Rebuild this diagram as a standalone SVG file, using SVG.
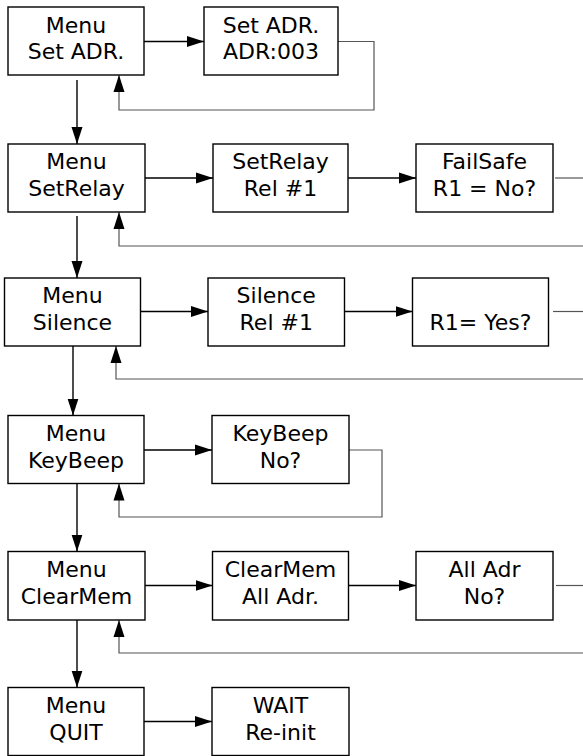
<svg xmlns="http://www.w3.org/2000/svg" width="583" height="756" viewBox="0 0 583 756">
<style>
.box{fill:#fff;stroke:#000;stroke-width:1.4}
text{font-family:"DejaVu Sans","Liberation Sans",sans-serif;font-size:22px;fill:#000;text-anchor:middle}
.a{fill:none;stroke:#000;stroke-width:1.4;marker-end:url(#ah)}
.g{fill:none;stroke:#555;stroke-width:1.2}
.ga{fill:none;stroke:#555;stroke-width:1.2;marker-end:url(#ah)}
</style>
<defs>
<marker id="ah" markerUnits="userSpaceOnUse" markerWidth="17" markerHeight="12" refX="17" refY="6" orient="auto">
<path d="M0,0.5 L17,6 L0,11.5 z" fill="#000"/>
</marker>
</defs>
<rect width="583" height="756" fill="#fff"/>
<g id="connectors">
<path class="a" d="M144,41.5 H204"/>
<path class="ga" d="M338,41.5 H374 V110 H119 V75"/>
<path class="a" d="M77,80 V144"/>
<path class="a" d="M145,178 H213"/>
<path class="a" d="M348,178 H416"/>
<path class="g" d="M555,178 H583"/>
<path class="ga" d="M583,246 H119 V212"/>
<path class="a" d="M77,216 V278"/>
<path class="a" d="M140.5,311.5 H208"/>
<path class="a" d="M344.5,311.5 H412.5"/>
<path class="g" d="M553,311.5 H583"/>
<path class="ga" d="M583,379 H116 V346"/>
<path class="a" d="M73,346 V415.5"/>
<path class="a" d="M144,450 H212"/>
<path class="ga" d="M349,450 H382 V517 H119 V483.5"/>
<path class="a" d="M77,483.5 V551.5"/>
<path class="a" d="M145,585.5 H212.5"/>
<path class="a" d="M348.5,585.5 H416"/>
<path class="g" d="M556,585.5 H583"/>
<path class="ga" d="M583,653 H119 V620"/>
<path class="a" d="M77,620 V687.5"/>
<path class="a" d="M144,721.5 H212"/>
</g>
<g id="menu-setadr"><rect class="box" x="8" y="7" width="136" height="68"/><text x="76" y="32.5">Menu</text><text x="76" y="58.5">Set ADR.</text></g>
<g id="setadr-adr"><rect class="box" x="204" y="7" width="134" height="68"/><text x="271" y="32.5">Set ADR.</text><text x="271" y="58.5">ADR:003</text></g>
<g id="menu-setrelay"><rect class="box" x="8" y="144" width="137" height="68"/><text x="76.5" y="169">Menu</text><text x="76.5" y="196">SetRelay</text></g>
<g id="setrelay-rel1"><rect class="box" x="213" y="144" width="135" height="68"/><text x="280.5" y="169">SetRelay</text><text x="280.5" y="196">Rel #1</text></g>
<g id="failsafe"><rect class="box" x="416" y="144" width="137" height="68"/><text x="484.5" y="169">FailSafe</text><text x="484.5" y="196">R1 = No?</text></g>
<g id="menu-silence"><rect class="box" x="4.5" y="278" width="136" height="68"/><text x="72.5" y="303">Menu</text><text x="72.5" y="330">Silence</text></g>
<g id="silence-rel1"><rect class="box" x="208" y="278" width="136.5" height="68"/><text x="276.25" y="303">Silence</text><text x="276.25" y="330">Rel #1</text></g>
<g id="r1-yes"><rect class="box" x="412.5" y="278" width="136" height="68"/><text x="480.5" y="330">R1= Yes?</text></g>
<g id="menu-keybeep"><rect class="box" x="8" y="415.5" width="136" height="68"/><text x="76" y="440.5">Menu</text><text x="76" y="467.5">KeyBeep</text></g>
<g id="keybeep-no"><rect class="box" x="212" y="415.5" width="137" height="68"/><text x="280.5" y="440.5">KeyBeep</text><text x="280.5" y="467.5">No?</text></g>
<g id="menu-clearmem"><rect class="box" x="8" y="551.5" width="137" height="68.5"/><text x="76.5" y="577">Menu</text><text x="76.5" y="604">ClearMem</text></g>
<g id="clearmem-all"><rect class="box" x="212.5" y="551.5" width="136" height="68.5"/><text x="280.5" y="577">ClearMem</text><text x="280.5" y="604">All Adr.</text></g>
<g id="alladr-no"><rect class="box" x="416" y="551.5" width="137" height="68.5"/><text x="484.5" y="577">All Adr</text><text x="484.5" y="604">No?</text></g>
<g id="menu-quit"><rect class="box" x="8" y="687.5" width="136" height="68"/><text x="76" y="713">Menu</text><text x="76" y="740">QUIT</text></g>
<g id="wait-reinit"><rect class="box" x="212" y="687.5" width="137" height="68"/><text x="280.5" y="713">WAIT</text><text x="280.5" y="740">Re-init</text></g>
</svg>
